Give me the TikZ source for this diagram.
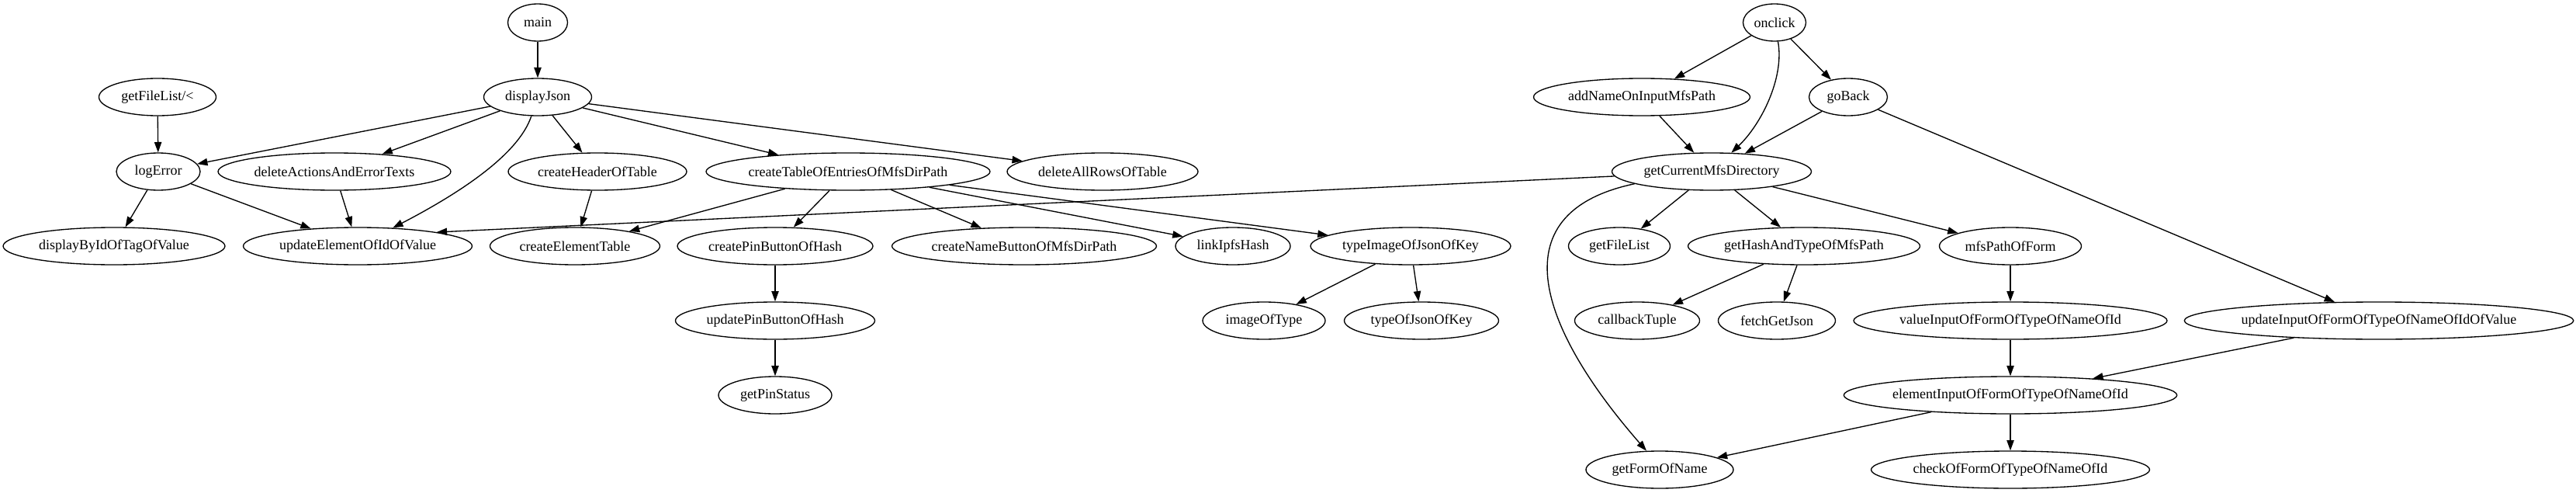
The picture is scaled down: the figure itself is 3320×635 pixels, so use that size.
\documentclass[tikz,border=0pt]{standalone}
\usepackage{fontspec}
\setmainfont{Liberation Serif}
\usepackage{tikz}
\usetikzlibrary{shapes,arrows,positioning,calc,arrows.meta}

\tikzset{
    fn/.style={draw,ellipse,line width=1pt,minimum height=36pt,inner sep=0pt,font=\fontsize{13.5}{16}\selectfont},
    call/.style={line width=1pt,-{Triangle[length=10pt,width=7pt]}}
}

\begin{document}
\begin{tikzpicture}[x=0.75pt,y=-0.75pt]
    \useasboundingbox (0,0) rectangle (3320,635);

    % displayJson side
    \node[fn,minimum width=57.75pt] (main) at (693,29) {main};
    \node[fn,minimum width=104.25pt] (dj) at (693,125) {displayJson};
    \node[fn,minimum width=113.25pt] (gfl2) at (203,125) {getFileList/<};
    \node[fn,minimum width=81pt] (le) at (204,221) {logError};
    \node[fn,minimum width=225pt] (dae) at (431,221) {deleteActionsAndErrorTexts};
    \node[fn,minimum width=172.5pt] (cht) at (770,221) {createHeaderOfTable};
    \node[fn,minimum width=274.5pt] (cte) at (1093,221) {createTableOfEntriesOfMfsDirPath};
    \node[fn,minimum width=184.5pt] (dar) at (1421,221) {deleteAllRowsOfTable};
    \node[fn,minimum width=214.5pt] (db) at (147,317) {displayByIdOfTagOfValue};
    \node[fn,minimum width=221.25pt] (ue) at (461,317) {updateElementOfIdOfValue};
    \node[fn,minimum width=164.25pt] (cet) at (741,317) {createElementTable};
    \node[fn,minimum width=189pt] (cpb) at (999,317) {createPinButtonOfHash};
    \node[fn,minimum width=255.75pt] (cnb) at (1320,317) {createNameButtonOfMfsDirPath};
    \node[fn,minimum width=111pt] (lih) at (1589,317) {linkIpfsHash};
    \node[fn,minimum width=193.5pt] (tij) at (1818,317) {typeImageOfJsonOfKey};
    \node[fn,minimum width=192.75pt] (upb) at (999,413) {updatePinButtonOfHash};
    \node[fn,minimum width=118.5pt] (iot) at (1629,413) {imageOfType};
    \node[fn,minimum width=149.25pt] (toj) at (1832,413) {typeOfJsonOfKey};
    \node[fn,minimum width=109.5pt] (gps) at (999,509) {getPinStatus};

    % onclick side
    \node[fn,minimum width=60.75pt] (oc) at (2287,29) {onclick};
    \node[fn,minimum width=209.25pt] (an) at (2116,125) {addNameOnInputMfsPath};
    \node[fn,minimum width=75.75pt] (gb) at (2382,125) {goBack};
    \node[fn,minimum width=192.75pt] (gc) at (2206,221) {getCurrentMfsDirectory};
    \node[fn,minimum width=98.25pt] (gfl) at (2087,317) {getFileList};
    \node[fn,minimum width=224.25pt] (ght) at (2325,317) {getHashAndTypeOfMfsPath};
    \node[fn,minimum width=137.25pt] (mpf) at (2591,317) {mfsPathOfForm};
    \node[fn,minimum width=120.75pt] (cbt) at (2110,413) {callbackTuple};
    \node[fn,minimum width=113.25pt] (fgj) at (2290,413) {fetchGetJson};
    \node[fn,minimum width=302.25pt] (vif) at (2591,413) {valueInputOfFormOfTypeOfNameOfId};
    \node[fn,minimum width=372.75pt] (uif) at (3066,413) {updateInputOfFormOfTypeOfNameOfIdOfValue};
    \node[fn,minimum width=320.25pt] (eif) at (2591,509) {elementInputOfFormOfTypeOfNameOfId};
    \node[fn,minimum width=142.5pt] (gfn) at (2139,605) {getFormOfName};
    \node[fn,minimum width=269.25pt] (cof) at (2591,605) {checkOfFormOfTypeOfNameOfId};

    \draw[call] (main) -- (dj);
    \draw[call] (gfl2) -- (le);
    \draw[call] (dj) -- (le);
    \draw[call] (dj) -- (dae);
    \draw[call] (dj) .. controls (668,200) and (590,250) .. (ue);
    \draw[call] (dj) -- (cht);
    \draw[call] (dj) -- (cte);
    \draw[call] (dj) -- (dar);
    \draw[call] (le) -- (db);
    \draw[call] (le) -- (ue);
    \draw[call] (dae) -- (ue);
    \draw[call] (cht) -- (cet);
    \draw[call] (cte) -- (cet);
    \draw[call] (cte) -- (cpb);
    \draw[call] (cte) -- (cnb);
    \draw[call] (cte) -- (lih);
    \draw[call] (cte) -- (tij);
    \draw[call] (cpb) -- (upb);
    \draw[call] (upb) -- (gps);
    \draw[call] (tij) -- (iot);
    \draw[call] (tij) -- (toj);

    \draw[call] (oc) -- (an);
    \draw[call] (oc) .. controls (2300,100) and (2270,160) .. (gc);
    \draw[call] (oc) -- (gb);
    \draw[call] (an) -- (gc);
    \draw[call] (gb) -- (gc);
    \draw[call] (gb) -- (uif);
    \draw[call] (gc) -- (ue.10);
    \draw[call] (gc) -- (gfl);
    \draw[call] (gc) -- (ght);
    \draw[call] (gc) -- (mpf);
    \draw[call] (gc.189) .. controls (1925,275) and (1990,430) .. (gfn.125);
    \draw[call] (ght) -- (cbt);
    \draw[call] (ght) -- (fgj);
    \draw[call] (mpf) -- (vif);
    \draw[call] (vif) -- (eif);
    \draw[call] (uif) -- (eif);
    \draw[call] (eif) -- (gfn);
    \draw[call] (eif) -- (cof);
\end{tikzpicture}
\end{document}
